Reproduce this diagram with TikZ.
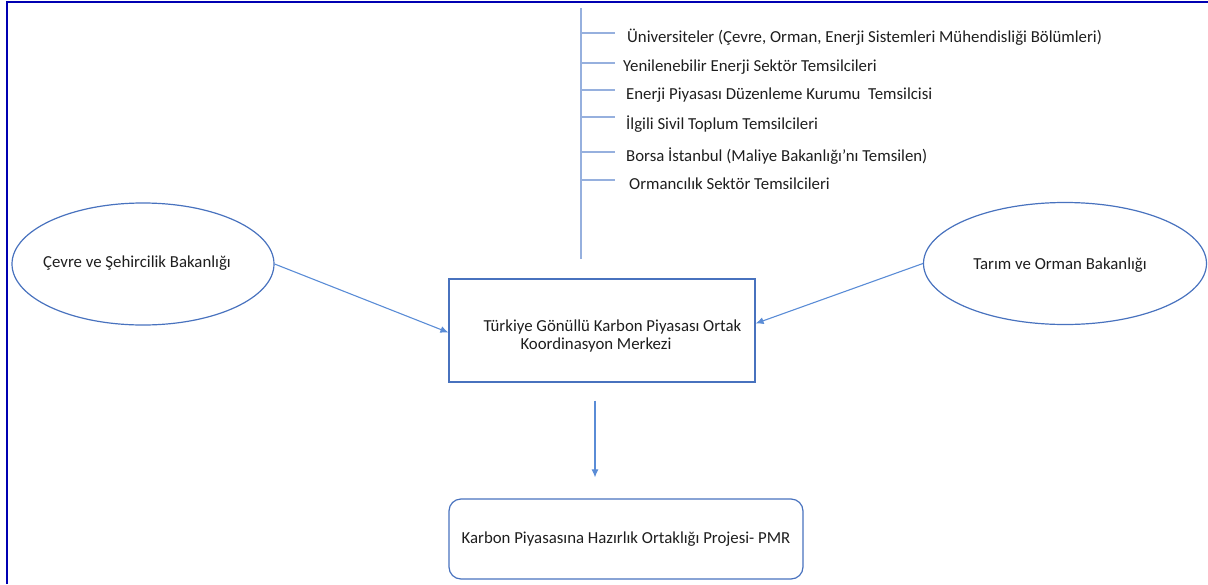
\documentclass[tikz,border=0pt]{standalone}
\usepackage{fontspec}
\setmainfont{Carlito}
\usetikzlibrary{shapes.geometric,arrows.meta}
\definecolor{nodeblue}{RGB}{72,114,190}
\definecolor{arrowblue}{RGB}{90,140,214}
\definecolor{tickblue}{RGB}{150,176,222}
\definecolor{frameblue}{RGB}{0,0,178}
\definecolor{txt}{RGB}{30,30,30}
\tikzset{
  every node/.style={font=\fontsize{16.8}{20}\selectfont, text=txt},
  oval/.style={ellipse, draw=nodeblue, line width=1.2pt, inner sep=0pt},
  box/.style={rectangle, draw=nodeblue, line width=1.2pt, inner sep=0pt},
  rbox/.style={rectangle, rounded corners=12pt, draw=nodeblue, line width=1.2pt, inner sep=0pt},
  link/.style={draw=arrowblue, line width=1.1pt, -{Latex[length=8pt,width=7pt]}},
  tick/.style={draw=tickblue, line width=1.4pt},
  item/.style={anchor=west, inner sep=0pt}
}
\begin{document}
\begin{tikzpicture}[x=1pt,y=-1pt]
\useasboundingbox (0,0) rectangle (1208,584);
% frame
\draw[frameblue, line width=2.4pt] (7,584) -- (7,2) -- (1208,2);
% nodes
\node[oval, minimum width=262pt, minimum height=122pt] (cevre) at (143,264) {};
\node (cevret) at (137,263) {Çevre ve Şehircilik Bakanlığı};
\node[oval, minimum width=283pt, minimum height=122pt] (tarim) at (1065,263.5) {};
\node (tarimt) at (1060,265) {Tarım ve Orman Bakanlığı};
\node[box, minimum width=306pt, minimum height=103pt] (merkez) at (602,330.5) {};
\node[anchor=west] (m1) at (480,327) {Türkiye Gönüllü Karbon Piyasası Ortak};
\node[anchor=west] (m2) at (517,345) {Koordinasyon Merkezi};
\node[rbox, minimum width=354pt, minimum height=80pt] (pmr) at (626,539) {Karbon Piyasasına Hazırlık Ortaklığı Projesi- PMR};
% list
\coordinate (vtop) at (581,8);
\coordinate (vbot) at (581,259);
\draw[tick] (vtop) -- (vbot);
\node[item] (u1) at (627,37) {Üniversiteler (Çevre, Orman, Enerji Sistemleri Mühendisliği Bölümleri)};
\node[item] (u2) at (623,67) {Yenilenebilir Enerji Sektör Temsilcileri};
\node[item] (u3) at (626,95) {Enerji Piyasası Düzenleme Kurumu\ \ Temsilcisi};
\node[item] (u4) at (626,124) {İlgili Sivil Toplum Temsilcileri};
\node[item] (u5) at (626,156) {Borsa İstanbul (Maliye Bakanlığı’nı Temsilen)};
\node[item] (u6) at (629,184) {Ormancılık Sektör Temsilcileri};
\foreach \y/\n in {33/1,63/2,90/3,117/4,152/5,180/6}{
  \coordinate (t\n) at (615,\y);
  \draw[tick] (vtop |- t\n) -- (t\n);
}
% arrows
\draw[link] (cevre.east) -- ([yshift=-2pt]merkez.west);
\draw[link] (tarim.west) -- ([yshift=7pt]merkez.east);
\draw[link] ([xshift=-7pt,yshift=-18pt]merkez.south) -- ([xshift=-31pt,yshift=21pt]pmr.north);
\end{tikzpicture}
\end{document}
